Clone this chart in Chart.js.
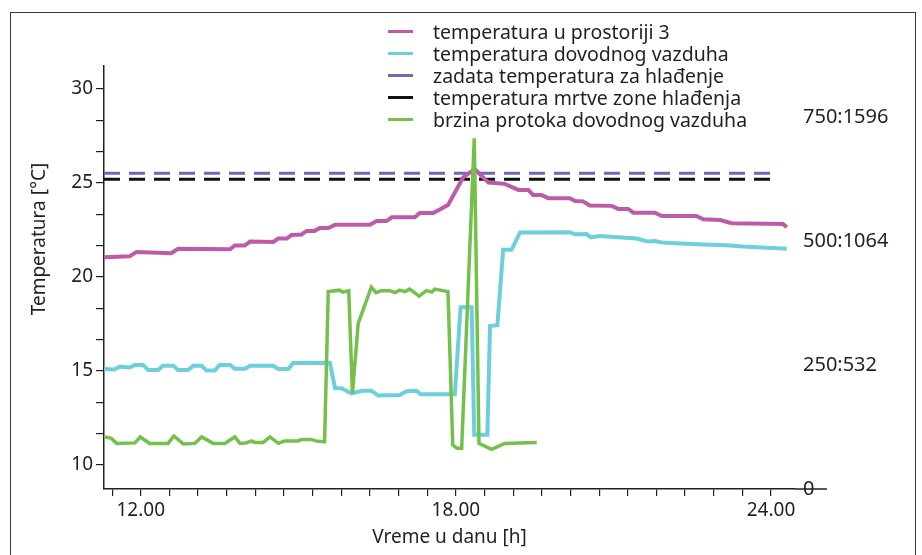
<!DOCTYPE html>
<html>
<head>
<meta charset="utf-8">
<script src="https://cdn.jsdelivr.net/npm/chart.js@4.4.1/dist/chart.umd.min.js"></script>
<style>
  html, body { margin: 0; padding: 0; background: #fff; }
  #wrap { position: relative; width: 922px; height: 555px; overflow: hidden; }
  #frame { position: absolute; left: 10px; top: 12px; width: 906px; height: 600px; border: 1.5px solid #3a3a3a; box-sizing: border-box; }
  #chart { position: absolute; left: 0; top: 0; }
  #legend { position: absolute; left: 388px; top: 20px; font-family: 'Noto Sans', sans-serif; font-size: 19.5px; color: #231f20; }
  .row { height: 22px; display: flex; align-items: center; white-space: nowrap; }
  .swatch { width: 25px; height: 3px; margin-right: 20px; }
</style>
</head>
<body>
<div id="wrap">
  <div id="frame"></div>
  <canvas id="chart" width="922" height="555"></canvas>
  <div id="legend"></div>
</div>
<script>
// hours of the day (x) and values
const roomTime = [11.30, 11.79, 11.92, 12.58, 12.71, 13.70, 13.79, 13.98, 14.08, 14.52, 14.62, 14.78, 14.87, 15.06, 15.16, 15.31, 15.41, 15.57, 15.70, 16.36, 16.49, 16.68, 16.78, 17.22, 17.31, 17.57, 17.85, 18.14, 18.36, 18.62, 18.93, 19.19, 19.38, 19.47, 19.63, 19.76, 20.17, 20.27, 20.42, 20.55, 20.97, 21.09, 21.28, 21.38, 21.79, 21.92, 22.58, 22.71, 23.03, 23.25, 24.23, 24.30];
const roomTemp = [21.05, 21.10, 21.33, 21.26, 21.50, 21.47, 21.67, 21.67, 21.88, 21.86, 22.04, 22.04, 22.23, 22.26, 22.45, 22.45, 22.60, 22.60, 22.77, 22.77, 22.98, 22.98, 23.17, 23.17, 23.40, 23.40, 23.83, 25.30, 25.73, 25.02, 24.95, 24.63, 24.63, 24.36, 24.36, 24.19, 24.19, 24.04, 24.02, 23.80, 23.78, 23.62, 23.62, 23.42, 23.42, 23.24, 23.24, 23.07, 23.03, 22.86, 22.82, 22.64];

const supplyTime = [11.30, 11.50, 11.60, 11.79, 11.89, 12.04, 12.14, 12.33, 12.42, 12.62, 12.71, 12.90, 13.00, 13.16, 13.25, 13.41, 13.50, 13.70, 13.79, 13.98, 14.08, 14.52, 14.62, 14.81, 14.90, 15.60, 15.70, 15.82, 16.01, 16.23, 16.39, 16.52, 16.93, 17.06, 17.25, 17.33, 17.98, 18.09, 18.30, 18.35, 18.60, 18.65, 18.79, 18.90, 19.06, 19.22, 20.17, 20.27, 20.49, 20.57, 20.74, 21.44, 21.66, 21.79, 21.92, 22.58, 23.16, 23.47, 24.30];
const supplyTemp = [15.10, 15.08, 15.23, 15.18, 15.32, 15.32, 15.05, 15.05, 15.27, 15.27, 15.05, 15.05, 15.28, 15.28, 15.02, 15.02, 15.32, 15.32, 15.11, 15.11, 15.28, 15.27, 15.10, 15.10, 15.42, 15.44, 14.08, 14.08, 13.81, 13.95, 13.95, 13.69, 13.72, 13.92, 13.95, 13.76, 13.76, 18.39, 18.39, 11.60, 11.60, 17.39, 17.43, 21.44, 21.44, 22.36, 22.38, 22.27, 22.28, 22.10, 22.18, 22.04, 21.88, 21.91, 21.83, 21.74, 21.69, 21.62, 21.50];

const setpointTime = [11.30, 24.08];
const setpointTemp = [25.52, 25.52];
const deadbandTime = [11.30, 24.08];
const deadbandTemp = [25.20, 25.20];

const flowTime = [11.30, 11.38, 11.44, 11.54, 11.89, 11.99, 12.17, 12.52, 12.63, 12.81, 13.03, 13.16, 13.38, 13.60, 13.79, 13.89, 14.01, 14.11, 14.17, 14.33, 14.46, 14.62, 14.74, 15.00, 15.06, 15.25, 15.33, 15.50, 15.57, 15.79, 15.85, 15.96, 16.03, 16.14, 16.39, 16.48, 16.58, 16.74, 16.84, 16.93, 17.03, 17.12, 17.30, 17.44, 17.54, 17.60, 17.85, 17.94, 18.02, 18.11, 18.35, 18.44, 18.68, 18.93, 19.54];
const flowRate = [105, 104, 102, 92, 93, 105, 92, 92, 107, 91, 92, 105, 92, 92, 105, 92, 93, 97, 94, 94, 105, 92, 97, 97, 100, 100, 97, 95, 398, 401, 397, 400, 193, 334, 407, 396, 400, 400, 396, 401, 398, 403, 389, 400, 397, 403, 398, 89, 82, 82, 707, 92, 80, 92, 94];

const xLabelHours = [12, 18, 24];
const tempLabels = [10, 15, 20, 25, 30];
const flowTicks = [0, 250, 500, 750];
const flowLabels = ['0', '250:532', '500:1064', '750:1596'];

const seriesNames = ['temperatura u prostoriji 3', 'temperatura dovodnog vazduha', 'zadata temperatura za hlađenje', 'temperatura mrtve zone hlađenja', 'brzina protoka dovodnog vazduha'];
const seriesColors = ['#bd5ba9', '#6dcfdc', '#6a6ab6', '#111111', '#74c04b'];

const pairs = (xs, ys) => xs.map((x, i) => ({ x: x, y: ys[i] }));
const font = { family: "'Noto Sans', sans-serif", size: 19 };
const ink = '#231f20';

const extras = {
    id: 'extras',
    afterDraw(chart) {
        const { ctx, chartArea } = chart;
        ctx.save();
        // x axis line runs on past the plot
        ctx.strokeStyle = ink;
        ctx.lineWidth = 1.5;
        ctx.beginPath();
        ctx.moveTo(chartArea.right, chartArea.bottom);
        ctx.lineTo(827, chartArea.bottom);
        ctx.stroke();
        // y axis title
        ctx.fillStyle = ink;
        ctx.font = "19px 'Noto Sans', sans-serif";
        ctx.textAlign = 'center';
        ctx.textBaseline = 'middle';
        ctx.translate(40, 239);
        ctx.rotate(-Math.PI / 2);
        ctx.fillText('Temperatura [°C]', 0, 0);
        ctx.restore();
    }
};

const chart = new Chart(document.getElementById('chart'), {
    type: 'line',
    data: {
        datasets: [
            { label: seriesNames[0], data: pairs(roomTime, roomTemp), borderColor: seriesColors[0], borderWidth: 4, yAxisID: 'y', order: 1 },
            { label: seriesNames[1], data: pairs(supplyTime, supplyTemp), borderColor: seriesColors[1], borderWidth: 4, yAxisID: 'y', order: 2 },
            { label: seriesNames[2], data: pairs(setpointTime, setpointTemp), borderColor: seriesColors[2], borderWidth: 3, borderDash: [16, 9], yAxisID: 'y', order: 3 },
            { label: seriesNames[3], data: pairs(deadbandTime, deadbandTemp), borderColor: seriesColors[3], borderWidth: 3, borderDash: [16, 9], yAxisID: 'y', order: 4 },
            { label: seriesNames[4], data: pairs(flowTime, flowRate), borderColor: seriesColors[4], borderWidth: 3.5, yAxisID: 'y1', order: 0 }
        ]
    },
    options: {
        responsive: false,
        animation: false,
        layout: { padding: { top: 66, left: 0, right: 0, bottom: 0 } },
        elements: { point: { radius: 0 }, line: { tension: 0, fill: false } },
        plugins: { legend: { display: false }, tooltip: { enabled: false } },
        scales: {
            x: {
                type: 'linear',
                min: 11.3,
                max: 24.457,
                afterFit: (s) => { s.height = 66; },
                afterBuildTicks: (s) => {
                    const t = [];
                    for (let k = -1; k <= 22; k++) t.push({ value: 12 + k * 6 / 11 });
                    s.ticks = t;
                },
                ticks: {
                    autoSkip: false,
                    maxRotation: 0,
                    padding: 3,
                    color: ink,
                    font: font,
                    callback: (v) => {
                        const h = xLabelHours.find((x) => Math.abs(x - v) < 0.01);
                        return h === undefined ? '' : h.toFixed(2);
                    }
                },
                grid: { drawOnChartArea: false, tickLength: 7, color: ink, lineWidth: 1.2 },
                border: { color: ink, width: 1.5 },
                title: { display: true, text: 'Vreme u danu [h]', color: ink, font: font, padding: { top: 4, bottom: 6 } }
            },
            y: {
                position: 'left',
                min: 8.72,
                max: 31.22,
                afterFit: (s) => { s.width = 104; },
                afterBuildTicks: (s) => {
                    const t = [];
                    for (let k = 0; k <= 12; k++) t.push({ value: 10 + k * 5 / 3 });
                    s.ticks = t;
                },
                ticks: {
                    padding: 3,
                    color: ink,
                    font: font,
                    callback: (v) => {
                        const l = tempLabels.find((x) => Math.abs(x - v) < 0.01);
                        return l === undefined ? '' : String(l);
                    }
                },
                grid: { drawOnChartArea: false, tickLength: 8, color: ink, lineWidth: 1.2 },
                border: { color: ink, width: 1.5 }
            },
            y1: {
                position: 'right',
                min: 0,
                max: 853,
                afterFit: (s) => { s.width = 127; },
                afterBuildTicks: (s) => { s.ticks = flowTicks.map((v) => ({ value: v })); },
                ticks: {
                    padding: 0,
                    color: ink,
                    font: { family: "'Noto Sans', sans-serif", size: 20 },
                    callback: (v, i) => flowLabels[i]
                },
                grid: { display: false },
                border: { display: false }
            }
        }
    },
    plugins: [extras]
});

// legend
const legend = document.getElementById('legend');
seriesNames.forEach((name, i) => {
    const row = document.createElement('div');
    row.className = 'row';
    row.innerHTML = '<span class="swatch" style="background:' + seriesColors[i] + '"></span><span>' + name + '</span>';
    legend.appendChild(row);
});
</script>
</body>
</html>
